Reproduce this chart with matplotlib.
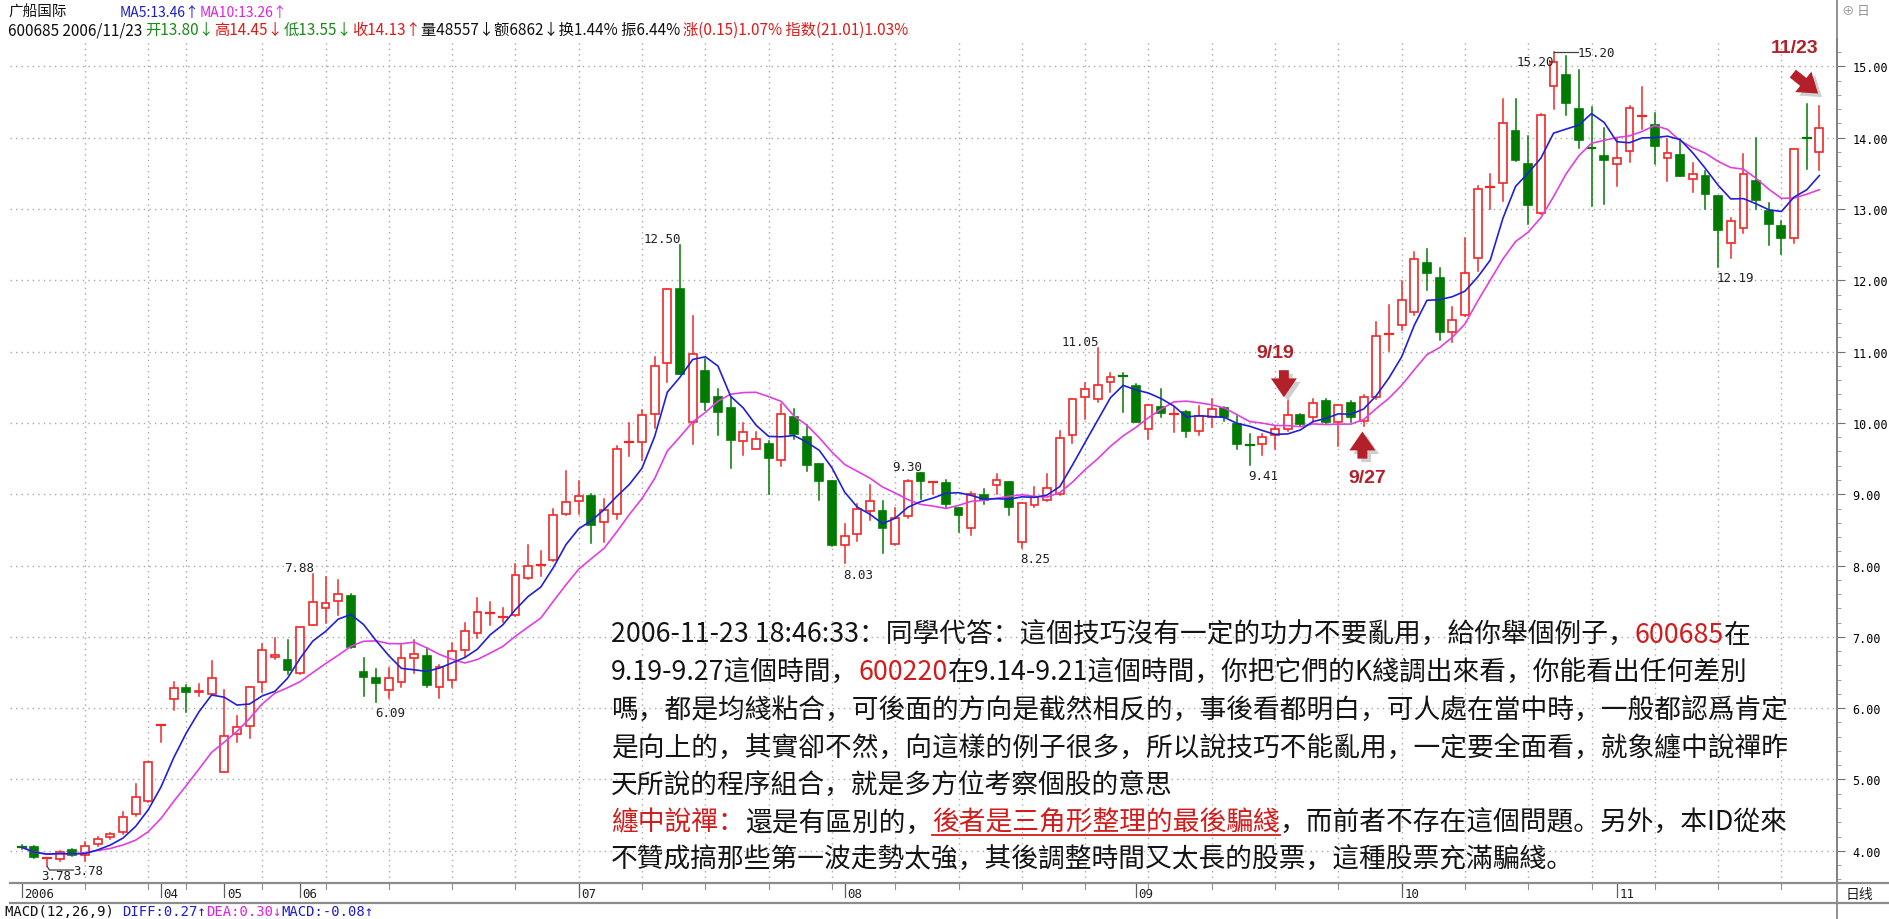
import matplotlib
matplotlib.use("Agg")
import matplotlib.pyplot as plt
import pandas as pd
from matplotlib.patches import Rectangle
from matplotlib.lines import Line2D
from matplotlib.ticker import MultipleLocator, FixedLocator

W, H = 1890, 920

# daily candles, 600685 广船国际, 2006
opens = [4.06, 4.05, 3.89, 3.88, 4.01, 3.94, 4.09, 4.19, 4.26, 4.51,
         4.70, 5.75, 6.13, 6.28, 6.22, 6.20, 5.11, 5.64, 5.75, 6.36,
         6.72, 6.68, 6.49, 7.17, 7.41, 7.50, 7.58, 6.51, 6.43, 6.26,
         6.36, 6.70, 6.73, 6.30, 6.40, 6.82, 7.05, 7.32, 7.27, 7.30,
         7.82, 8.00, 8.08, 8.72, 8.90, 8.97, 8.61, 8.73, 9.72, 9.73,
         10.12, 10.84, 11.88, 10.02, 10.73, 10.36, 10.21, 9.74, 9.64, 9.70,
         9.48, 10.08, 9.80, 9.42, 9.18, 8.29, 8.44, 8.76, 8.77, 8.30,
         8.69, 9.30, 9.16, 9.16, 8.81, 8.53, 8.99, 9.13, 9.17, 8.33,
         8.85, 8.92, 9.01, 9.83, 10.37, 10.33, 10.57, 10.68, 10.52, 9.92,
         10.23, 10.12, 10.15, 9.89, 10.09, 10.21, 9.99, 9.70, 9.71, 9.83,
         9.92, 10.11, 10.08, 10.31, 10.02, 10.28, 10.03, 10.36, 11.24, 11.37,
         11.55, 12.25, 12.04, 11.28, 11.52, 12.32, 13.30, 13.36, 14.09, 13.63,
         12.94, 14.73, 14.88, 14.40, 13.87, 13.75, 13.63, 13.82, 14.30, 14.18,
         13.72, 13.76, 13.42, 13.47, 13.19, 12.53, 12.74, 13.40, 12.97, 12.76,
         12.60, 14.01, 13.80]
highs = [4.08, 4.06, 3.90, 4.00, 4.02, 4.12, 4.20, 4.25, 4.54, 4.94,
         5.24, 5.76, 6.36, 6.32, 6.34, 6.66, 6.25, 5.89, 6.29, 6.90,
         6.99, 6.95, 7.14, 7.88, 7.84, 7.80, 7.60, 6.71, 6.55, 6.56,
         6.89, 6.96, 6.84, 6.61, 6.91, 7.19, 7.55, 7.49, 7.41, 8.02,
         8.29, 8.20, 8.80, 9.32, 9.19, 9.00, 8.94, 9.67, 10.00, 10.18,
         10.92, 11.88, 12.50, 11.50, 10.90, 10.48, 10.36, 10.00, 9.87, 9.74,
         10.27, 10.20, 9.97, 9.43, 9.18, 8.58, 8.87, 9.13, 8.91, 8.81,
         9.20, 9.30, 9.17, 9.20, 8.81, 9.03, 9.07, 9.29, 9.17, 8.88,
         9.10, 9.29, 9.89, 10.33, 10.56, 11.05, 10.70, 10.70, 10.54, 10.25,
         10.47, 10.22, 10.17, 10.24, 10.34, 10.22, 10.10, 9.85, 9.85, 9.96,
         10.34, 10.13, 10.34, 10.34, 10.25, 10.31, 10.39, 11.41, 11.66, 11.99,
         12.40, 12.44, 12.18, 11.62, 12.60, 13.32, 13.49, 14.55, 14.55, 14.02,
         14.33, 15.20, 15.14, 14.95, 14.43, 14.14, 13.99, 14.45, 14.71, 14.35,
         13.98, 13.98, 13.65, 13.54, 13.19, 12.88, 13.77, 14.00, 13.09, 12.83,
         13.84, 14.47, 14.45]
lows = [4.02, 3.90, 3.78, 3.86, 3.92, 3.86, 4.07, 4.17, 4.24, 4.49,
        4.68, 5.52, 5.98, 5.95, 6.17, 6.18, 5.11, 5.52, 5.58, 6.22,
        6.69, 6.48, 6.48, 7.16, 7.20, 7.31, 6.84, 6.17, 6.09, 6.14,
        6.30, 6.49, 6.30, 6.14, 6.30, 6.72, 6.98, 7.17, 7.21, 7.29,
        7.81, 7.85, 8.06, 8.71, 8.72, 8.31, 8.33, 8.66, 9.53, 9.48,
        9.93, 10.57, 10.69, 9.71, 10.18, 9.83, 9.37, 9.55, 9.64, 9.00,
        9.39, 9.78, 9.32, 8.92, 8.27, 8.03, 8.34, 8.64, 8.18, 8.29,
        8.67, 8.94, 9.00, 8.82, 8.47, 8.43, 8.86, 9.01, 8.71, 8.25,
        8.82, 8.90, 8.99, 9.72, 10.06, 10.29, 10.43, 10.15, 10.01, 9.78,
        10.08, 9.87, 9.80, 9.83, 9.94, 10.03, 9.64, 9.41, 9.55, 9.64,
        9.89, 9.96, 10.02, 9.99, 9.68, 10.01, 9.96, 10.34, 11.01, 11.31,
        11.52, 11.86, 11.17, 11.13, 11.50, 12.13, 13.00, 13.11, 13.68, 12.79,
        12.93, 14.41, 14.32, 13.85, 13.04, 13.07, 13.33, 13.66, 14.12, 13.63,
        13.40, 13.46, 13.24, 13.00, 12.19, 12.31, 12.67, 13.00, 12.49, 12.37,
        12.52, 13.56, 13.55]
closes = [4.05, 3.91, 3.90, 3.98, 3.94, 4.07, 4.17, 4.24, 4.47, 4.76,
          5.24, 5.76, 6.28, 6.22, 6.24, 6.42, 5.61, 5.73, 6.29, 6.81,
          6.74, 6.53, 7.14, 7.49, 7.48, 7.60, 6.86, 6.44, 6.35, 6.43,
          6.71, 6.76, 6.33, 6.58, 6.80, 7.08, 7.35, 7.33, 7.28, 7.87,
          8.00, 8.01, 8.71, 8.89, 8.97, 8.57, 8.78, 9.64, 9.73, 10.11,
          10.80, 11.88, 10.69, 10.97, 10.30, 10.15, 9.76, 9.87, 9.77, 9.51,
          10.12, 9.85, 9.41, 9.19, 8.29, 8.42, 8.79, 8.91, 8.53, 8.67,
          9.19, 9.18, 9.17, 8.86, 8.71, 9.00, 8.92, 9.20, 8.82, 8.88,
          8.96, 9.09, 9.79, 10.33, 10.47, 10.53, 10.65, 10.66, 10.01, 10.25,
          10.14, 10.13, 9.89, 10.10, 10.19, 10.08, 9.71, 9.69, 9.80, 9.92,
          10.11, 9.99, 10.28, 10.01, 10.25, 10.08, 10.36, 11.22, 11.25, 11.72,
          12.30, 12.11, 11.27, 11.45, 12.11, 13.28, 13.31, 14.20, 13.69, 13.05,
          14.32, 15.06, 14.49, 13.97, 13.86, 13.69, 13.71, 14.42, 14.31, 13.88,
          13.79, 13.47, 13.49, 13.21, 12.71, 12.83, 13.49, 13.13, 12.79, 12.59,
          13.84, 14.00, 14.13]

month_labels = ['2006', '04', '05', '06', '07', '08', '09', '10', '11']
month_idx = [0, 11, 16, 22, 44, 65, 88, 109, 126]
week_idx = [5, 10, 13, 19, 24, 29, 34, 39, 44, 49, 54, 59, 64, 69, 74, 79,
            84, 89, 94, 99, 104, 109, 114, 119, 124, 129, 134, 139]
price_ticks = list(range(4, 16))

high_marks = [(23, '7.88'), (52, '12.50'), (71, '9.30'), (85, '11.05')]
low_marks = [(28, '6.09'), (65, '8.03'), (79, '8.25'), (97, '9.41'), (134, '12.19')]

RED = '#f02828'
GREEN = '#007a00'
DARKRED = '#b3202a'
TXTRED = '#d21c1c'
GRID = '#a8a8a8'

CJK = ['Noto Sans CJK SC', 'DejaVu Sans']
MONO = ['DejaVu Sans Mono']
MONOCJK = ['DejaVu Sans Mono', 'Noto Sans CJK SC']

fig = plt.figure(figsize=(W / 100, H / 100), dpi=100)
fig.patch.set_facecolor('white')
ren = fig.canvas.get_renderer()

xmin, xmax = -0.924, 143.39
ymin, ymax = 3.548, 15.385
ax = fig.add_axes([10 / W, 1 - 884 / H, 1827 / W, 844 / H])
ax.set_xlim(xmin, xmax)
ax.set_ylim(ymin, ymax)

# grid
for p in price_ticks:
    ax.plot([xmin, xmax], [p, p], ls=(0, (1, 3)), color=GRID, lw=1, zorder=1)
for w in week_idx:
    ax.plot([w, w], [ymin, ymax], ls=(0, (1, 3)), color=GRID, lw=1, zorder=1)

# candles
bw = 0.62
for i in range(len(closes)):
    o, h, l, c = opens[i], highs[i], lows[i], closes[i]
    up = c >= o
    col = RED if up else GREEN
    ax.plot([i, i], [l, h], color=col, lw=1.1, zorder=2)
    lo, hi = min(o, c), max(o, c)
    if hi - lo < 0.02:
        ax.plot([i - bw / 2, i + bw / 2], [c, c], color=col, lw=1.6, zorder=3)
    else:
        ax.add_patch(Rectangle((i - bw / 2, lo), bw, hi - lo,
                               facecolor='white' if up else col,
                               edgecolor=col, lw=1.2, zorder=3))

ma5 = pd.Series(closes).rolling(5, min_periods=1).mean()
ma10 = pd.Series(closes).rolling(10, min_periods=1).mean()
ax.plot(range(len(closes)), ma10, color='#e040e0', lw=1.2, zorder=4)
ax.plot(range(len(closes)), ma5, color='#2020d8', lw=1.2, zorder=4)

# high / low value labels
lab = dict(fontsize=9, family=MONO, color='#202020')
for i, s in high_marks:
    ax.annotate(s, (i, highs[i]), xytext=(1, 0), textcoords='offset points',
                ha='right', va='bottom', **lab)
for i, s in low_marks:
    ax.annotate(s, (i, lows[i]), xytext=(-1, -3), textcoords='offset points',
                ha='left', va='top', **lab)
ax.annotate('15.20', (121, highs[121]), xytext=(0, -7), textcoords='offset points',
            ha='right', va='center', **lab)
ax.plot([121, 122.9], [highs[121], highs[121]], color='#404040', lw=0.9)
ax.annotate('15.20', (122.9, highs[121]), ha='left', va='center', **lab)
ax.plot([2, 2.2, 4.1], [lows[2], lows[2] - 0.05, lows[2] - 0.05], color='#404040', lw=0.9)
ax.annotate('3.78', (4.1, lows[2] - 0.05), ha='left', va='center', **lab)
ax.annotate('3.78', (2, lows[2]), xytext=(-4, -2), textcoords='offset points',
            ha='left', va='top', **lab)

# red date callouts
arrow = dict(arrowstyle='simple,head_width=1.1,head_length=0.8,tail_width=0.42',
             color=DARKRED, lw=0, mutation_scale=17, shrinkA=0, shrinkB=0)
shadow = dict(arrow, color='#cfcfcf')
for tx, ty, hx, hy, txt, lx, ly in [
        (99.7, highs[100] + 0.40, 99.7, highs[100] + 0.02, '9/19', 99.0, 10.99),
        (105.9, lows[106] - 0.46, 105.9, lows[106] - 0.08, '9/27', 106.3, 9.24),
        (139.9, highs[142] + 0.45, 141.9, highs[142] + 0.17, '11/23', 140.0, 15.27)]:
    ax.annotate('', (hx + 0.3, hy - 0.05), xytext=(tx + 0.3, ty - 0.05),
                arrowprops=shadow, zorder=5)
    ax.annotate('', (hx, hy), xytext=(tx, ty), arrowprops=arrow, zorder=6)
    ax.text(lx, ly, txt, ha='center', va='center', fontsize=14, weight='bold',
            color=DARKRED, family=['Liberation Sans'], zorder=6)

# right price axis
for sp in ['left', 'top', 'bottom']:
    ax.spines[sp].set_visible(False)
ax.spines['right'].set_color('#808080')
ax.spines['right'].set_linewidth(1.2)
ax.yaxis.tick_right()
ax.yaxis.set_major_locator(FixedLocator(price_ticks))
ax.set_yticklabels([f'{p:.2f}' for p in price_ticks], family=MONO, fontsize=8.5)
ax.yaxis.set_minor_locator(MultipleLocator(0.2))
ax.tick_params(axis='y', which='major', length=6, color='#707070', pad=5)
ax.tick_params(axis='y', which='minor', length=3, color='#909090')
ax.set_xticks([])

# month band
band = fig.add_axes([10 / W, 1 - 904 / H, 1827 / W, 20 / H])
band.set_xlim(xmin, xmax)
band.set_ylim(0, 1)
band.set_xticks([])
band.set_yticks([])
for sp in ['left', 'right']:
    band.spines[sp].set_visible(False)
for sp in ['top', 'bottom']:
    band.spines[sp].set_color('#8c8c8c')
    band.spines[sp].set_linewidth(1.6)
for w in week_idx:
    band.plot([w, w], [1, 0.72], color='#909090', lw=0.8)
for m, s in zip(month_idx, month_labels):
    band.plot([m, m], [1, 0.3], color='#606060', lw=0.9)
    band.text(m + 0.2, 0.45, s, ha='left', va='center', fontsize=9,
              family=MONO, color='#202020')

# frame lines on the right
fig.add_artist(Line2D([1837 / W, 1837 / W], [0, 1], color='#808080', lw=1.2))
fig.add_artist(Line2D([1837 / W, 1], [1 - 884 / H, 1 - 884 / H], color='#8c8c8c', lw=1.6))
fig.add_artist(Line2D([1837 / W, 1], [1 - 904 / H, 1 - 904 / H], color='#8c8c8c', lw=1.6))
fig.text(1846 / W, 1 - 895 / H, '日线', fontsize=10, family=CJK, va='center', color='#202020')
fig.text(1842 / W, 1 - 12 / H, '⊕ 日', fontsize=9, family=CJK, va='center', color='#909090')


def runs(x, y, parts, size, family, weight='normal'):
    # consecutive coloured pieces on one baseline, x/y in pixels from top-left
    out = []
    for part in parts:
        s, c = part[0], part[1]
        t = fig.text(x / W, 1 - y / H, s, color=c, fontsize=size, family=family,
                     weight=weight, ha='left', va='baseline')
        wd = t.get_window_extent(ren).width
        out.append((x, x + wd, part))
        x += wd
    return out


# header
runs(8, 17, [('广船国际', '#101010')], 10.5, CJK)
runs(120, 17, [('MA5:13.46↑', '#1c1cd0'), ('MA10:13.26↑', '#e020e0')], 10, CJK)
runs(8, 35, [('600685 2006/11/23 ', '#101010'), ('开13.80↓', '#1a8a1a'),
             ('高14.45↓', '#e01a1a'), ('低13.55↓', '#1a8a1a'),
             ('收14.13↑', '#e01a1a'), ('量48557↓额6862↓换1.44% 振6.44% ', '#101010'),
             ('涨(0.15)1.07% 指数(21.01)1.03%', '#e01a1a')], 11, CJK)
runs(5, 916, [('MACD(12,26,9) ', '#101010'), ('DIFF:0.27↑', '#1c1cd0'),
              ('DEA:0.30↓', '#e020e0'), ('MACD:-0.08↑', '#1c1cd0')], 10, MONOCJK)

# quoted paragraph
K = '#141414'
para = [
    [("2006-11-23 18:46:33：同學代答：這個技巧沒有一定的功力不要亂用，給你舉個例子，", K),
     ("600685", TXTRED), ("在", K)],
    [("9.19-9.27這個時間，", K), ("600220", TXTRED),
     ("在9.14-9.21這個時間，你把它們的K綫調出來看，你能看出任何差別", K)],
    [("嗎，都是均綫粘合，可後面的方向是截然相反的，事後看都明白，可人處在當中時，一般都認爲肯定", K)],
    [("是向上的，其實卻不然，向這樣的例子很多，所以說技巧不能亂用，一定要全面看，就象纏中說禪昨", K)],
    [("天所說的程序組合，就是多方位考察個股的意思", K)],
    [("纏中說禪：", TXTRED), ("還是有區別的，", K), ("後者是三角形整理的最後騙綫", TXTRED, True),
     ("，而前者不存在這個問題。另外，本ID從來", K)],
    [("不贊成搞那些第一波走勢太強，其後調整時間又太長的股票，這種股票充滿騙綫。", K)],
]

# fit first line to the width it has in the screenshot
probe = fig.text(0, 0, ''.join(p[0] for p in para[0]), fontsize=19, family=CJK)
psize = 19 * 1139 / probe.get_window_extent(ren).width
probe.remove()

y0, dy = 643, 37.5
for k, line in enumerate(para):
    yb = y0 + k * dy
    for xa, xb, part in runs(611, yb, line, psize, CJK):
        if len(part) > 2:
            fig.add_artist(Line2D([xa / W, xb / W], [1 - (yb + 5) / H] * 2,
                                  color=TXTRED, lw=1.3))

fig.savefig('out.png', dpi=100, facecolor='white')
